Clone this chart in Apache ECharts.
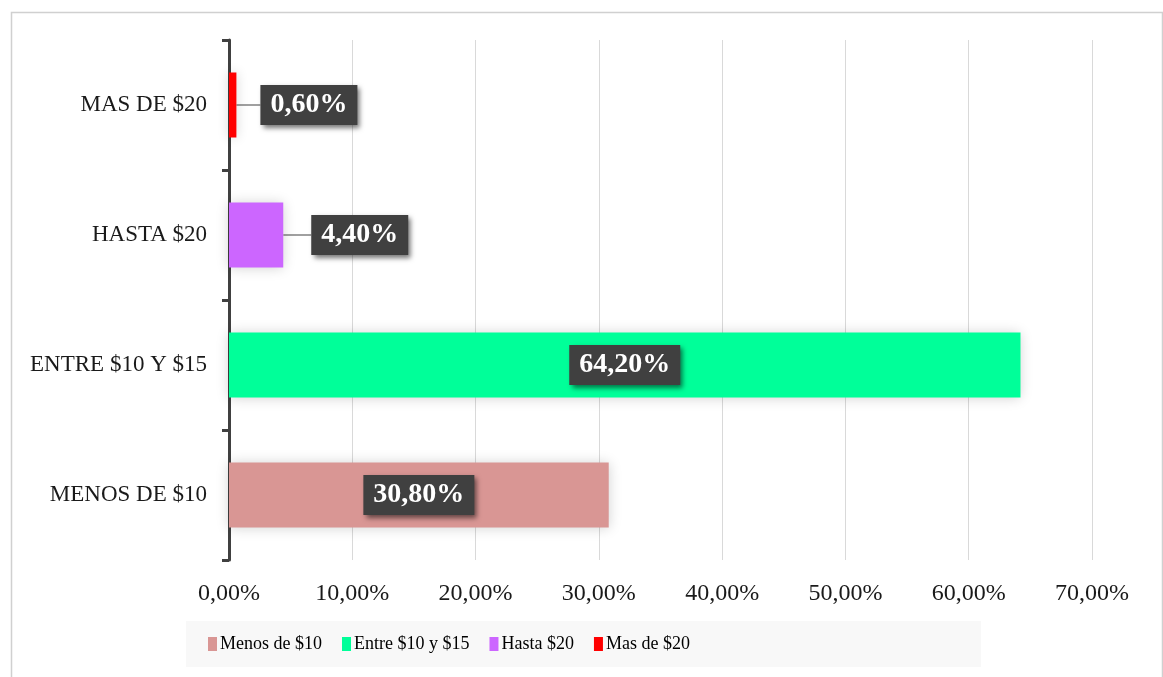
<!DOCTYPE html>
<html>
<head>
<meta charset="utf-8">
<script src="https://cdn.jsdelivr.net/npm/echarts@6/dist/echarts.min.js"></script>
<style>
html,body{margin:0;padding:0;background:#fff;}
#c{width:1163px;height:677px;}
</style>
</head>
<body>
<div id="c"></div>
<script>
const categories = ['MENOS DE $10', 'ENTRE $10 Y $15', 'HASTA $20', 'MAS DE $20'];
const seriesNames = ['Menos de $10', 'Entre $10 y $15', 'Hasta $20', 'Mas de $20'];
const values = [30.8, 64.2, 4.4, 0.6];
const colors = ['#d99694', '#00ff99', '#cc66ff', '#ff0000'];
const xTicks = [0, 10, 20, 30, 40, 50, 60, 70];

const fmt = v => v.toFixed(2).replace('.', ',') + '%';

const chart = echarts.init(document.getElementById('c'), null, {renderer: 'canvas'});

const labelBase = {
  show: true,
  formatter: p => fmt(p.value),
  color: '#ffffff',
  fontFamily: 'Liberation Serif',
  fontWeight: 'bold',
  fontSize: 28,
  lineHeight: 30,
  backgroundColor: '#404040',
  padding: [5, 10, 5, 10],
  shadowColor: 'rgba(0,0,0,0.55)',
  shadowBlur: 5,
  shadowOffsetX: 3,
  shadowOffsetY: 3
};

const series = seriesNames.map((name, i) => {
  const data = categories.map((c, j) => (j === i ? values[i] : '-'));
  const small = values[i] < 10;
  const s = {
    name: name,
    type: 'bar',
    stack: 'total',
    barWidth: '50%',
    data: data,
    itemStyle: {
      color: colors[i],
      shadowColor: 'rgba(0,0,0,0.18)',
      shadowBlur: 12
    },
    label: Object.assign({}, labelBase, {position: small ? 'right' : 'inside', distance: 5}),
    emphasis: {disabled: true}
  };
  if (small) {
    s.labelLayout = {dx: values[i] < 1 ? 19 : 23};
    s.labelLine = {show: true, lineStyle: {color: '#808080', width: 1.5}};
  }
  return s;
});

chart.setOption({
  animation: false,
  backgroundColor: '#ffffff',
  graphic: [{
    type: 'rect',
    left: 9, top: 10,
    shape: {width: 1151, height: 700},
    style: {fill: 'none', stroke: '#d0d0d0', lineWidth: 1.5},
    silent: true,
    z: -10
  }, {
    type: 'rect',
    left: 186, top: 621,
    shape: {width: 795, height: 46},
    style: {fill: '#f8f8f8'},
    silent: true,
    z: -9
  }],
  grid: {left: 229, right: 71, top: 40, bottom: 117},
  legend: {
    data: seriesNames.map(n => ({name: n, icon: 'rect'})),
    left: 186,
    top: 621,
    itemWidth: 9,
    itemHeight: 14,
    itemGap: 20,
    padding: [14, 0, 14, 22],
    textStyle: {fontFamily: 'Liberation Serif', fontSize: 18, color: '#000', padding: [0, 0, 0, -2]},
    selectedMode: false
  },
  xAxis: {
    type: 'value',
    min: 0,
    max: 70,
    interval: 10,
    axisLine: {show: false},
    axisTick: {show: false},
    splitLine: {show: true, lineStyle: {color: '#d9d9d9', width: 1}},
    axisLabel: {
      formatter: v => xTicks.includes(v) ? fmt(v) : '',
      fontFamily: 'Liberation Serif',
      fontSize: 24,
      color: '#1a1a1a',
      margin: 22
    }
  },
  yAxis: {
    type: 'category',
    data: categories,
    axisLine: {show: true, lineStyle: {color: '#404040', width: 3}},
    axisTick: {show: true, length: 7, lineStyle: {color: '#404040', width: 3}},
    axisLabel: {
      fontFamily: 'Liberation Serif',
      fontSize: 23,
      color: '#1a1a1a',
      margin: 22
    }
  },
  series: series
});
</script>
</body>
</html>
